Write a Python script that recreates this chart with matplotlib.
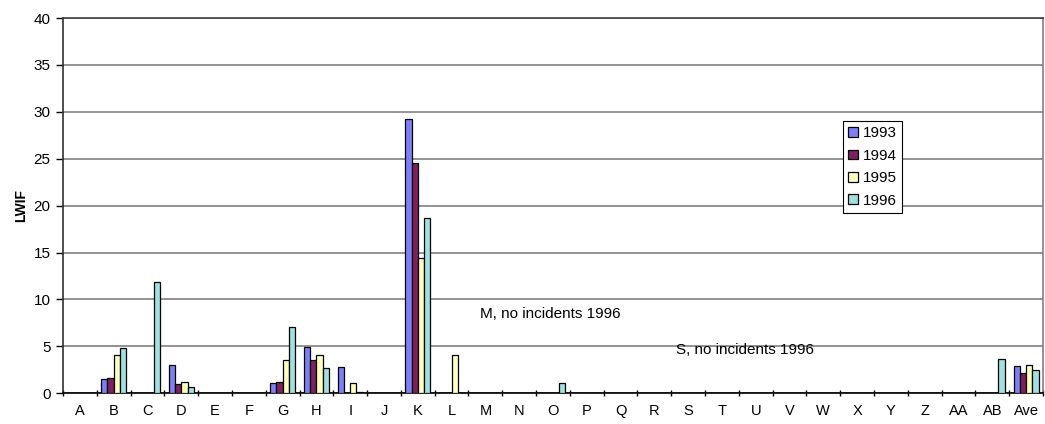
import numpy as np
import matplotlib.pyplot as plt

plt.rcParams['font.family'] = ['Liberation Sans', 'DejaVu Sans']

# sites A..AB plus average
cats = ['A', 'B', 'C', 'D', 'E', 'F', 'G', 'H', 'I', 'J', 'K', 'L', 'M', 'N',
        'O', 'P', 'Q', 'R', 'S', 'T', 'U', 'V', 'W', 'X', 'Y', 'Z', 'AA', 'AB', 'Ave']

def row(**vals):
    out = [0.0] * len(cats)
    for k, v in vals.items():
        out[cats.index(k)] = v
    return out

lwif_1993 = row(B=1.52, D=3.03, G=1.07, H=4.9, I=2.77, K=29.2, Ave=2.88)
lwif_1994 = row(B=1.66, D=1.0, G=1.25, H=3.55, K=24.6, Ave=2.13)
lwif_1995 = row(B=4.05, D=1.17, G=3.6, H=4.1, I=1.07, K=14.4, L=4.1, Ave=3.05)
lwif_1996 = row(B=4.86, C=11.9, D=0.64, G=7.1, H=2.67, I=0.12, K=18.65,
                O=1.13, AB=3.62, Ave=2.48)

series = [('1993', lwif_1993, '#7f7ff5'),
          ('1994', lwif_1994, '#802060'),
          ('1995', lwif_1995, '#ffffc0'),
          ('1996', lwif_1996, '#a0e0e0')]

fig = plt.figure(figsize=(10.45, 4.24), dpi=100)
ax = fig.add_axes([0.0603, 0.0724, 0.9377, 0.8851])

x = np.arange(len(cats))
w = 0.185
for i, (name, vals, col) in enumerate(series):
    ax.bar(x + (i - 1.5) * w, vals, w, color=col, edgecolor='black',
           linewidth=0.9, label=name, zorder=3)

ax.set_xlim(-0.5, len(cats) - 0.5)
ax.set_ylim(0, 40)
ax.set_yticks(range(0, 41, 5))
ax.yaxis.grid(True, color='#808080', linewidth=1.2, zorder=0)
ax.set_axisbelow(True)

ax.set_xticks(x)
ax.set_xticklabels(cats, fontsize=10.5)
ax.set_xticks(np.arange(-0.5, len(cats), 1), minor=True)
ax.tick_params(axis='x', which='major', length=0, pad=8)
ax.tick_params(axis='x', which='minor', length=5, direction='inout', width=1)
ax.tick_params(axis='y', labelsize=11, length=5, width=1, pad=4)

ax.set_ylabel('LWIF', fontsize=10, fontweight='bold', labelpad=4)

ax.spines['left'].set_color('#303030')
ax.spines['bottom'].set_color('black')
ax.spines['top'].set_color('#404040')
ax.spines['right'].set_color('#808080')
for s in ax.spines.values():
    s.set_linewidth(1.2)

ax.text(11.84, 8.5, 'M, no incidents 1996', fontsize=11, va='center')
ax.text(17.64, 4.6, 'S, no incidents 1996', fontsize=11, va='center')

leg = ax.legend(loc='upper left', bbox_to_anchor=(0.796, 0.7256),
                borderaxespad=0, fancybox=False, framealpha=1,
                edgecolor='black', fontsize=11, handlelength=0.6,
                handleheight=0.6, handletextpad=0.35, labelspacing=0.55,
                borderpad=0.35)
leg.get_frame().set_linewidth(0.8)

fig.savefig('out.png', dpi=100)
